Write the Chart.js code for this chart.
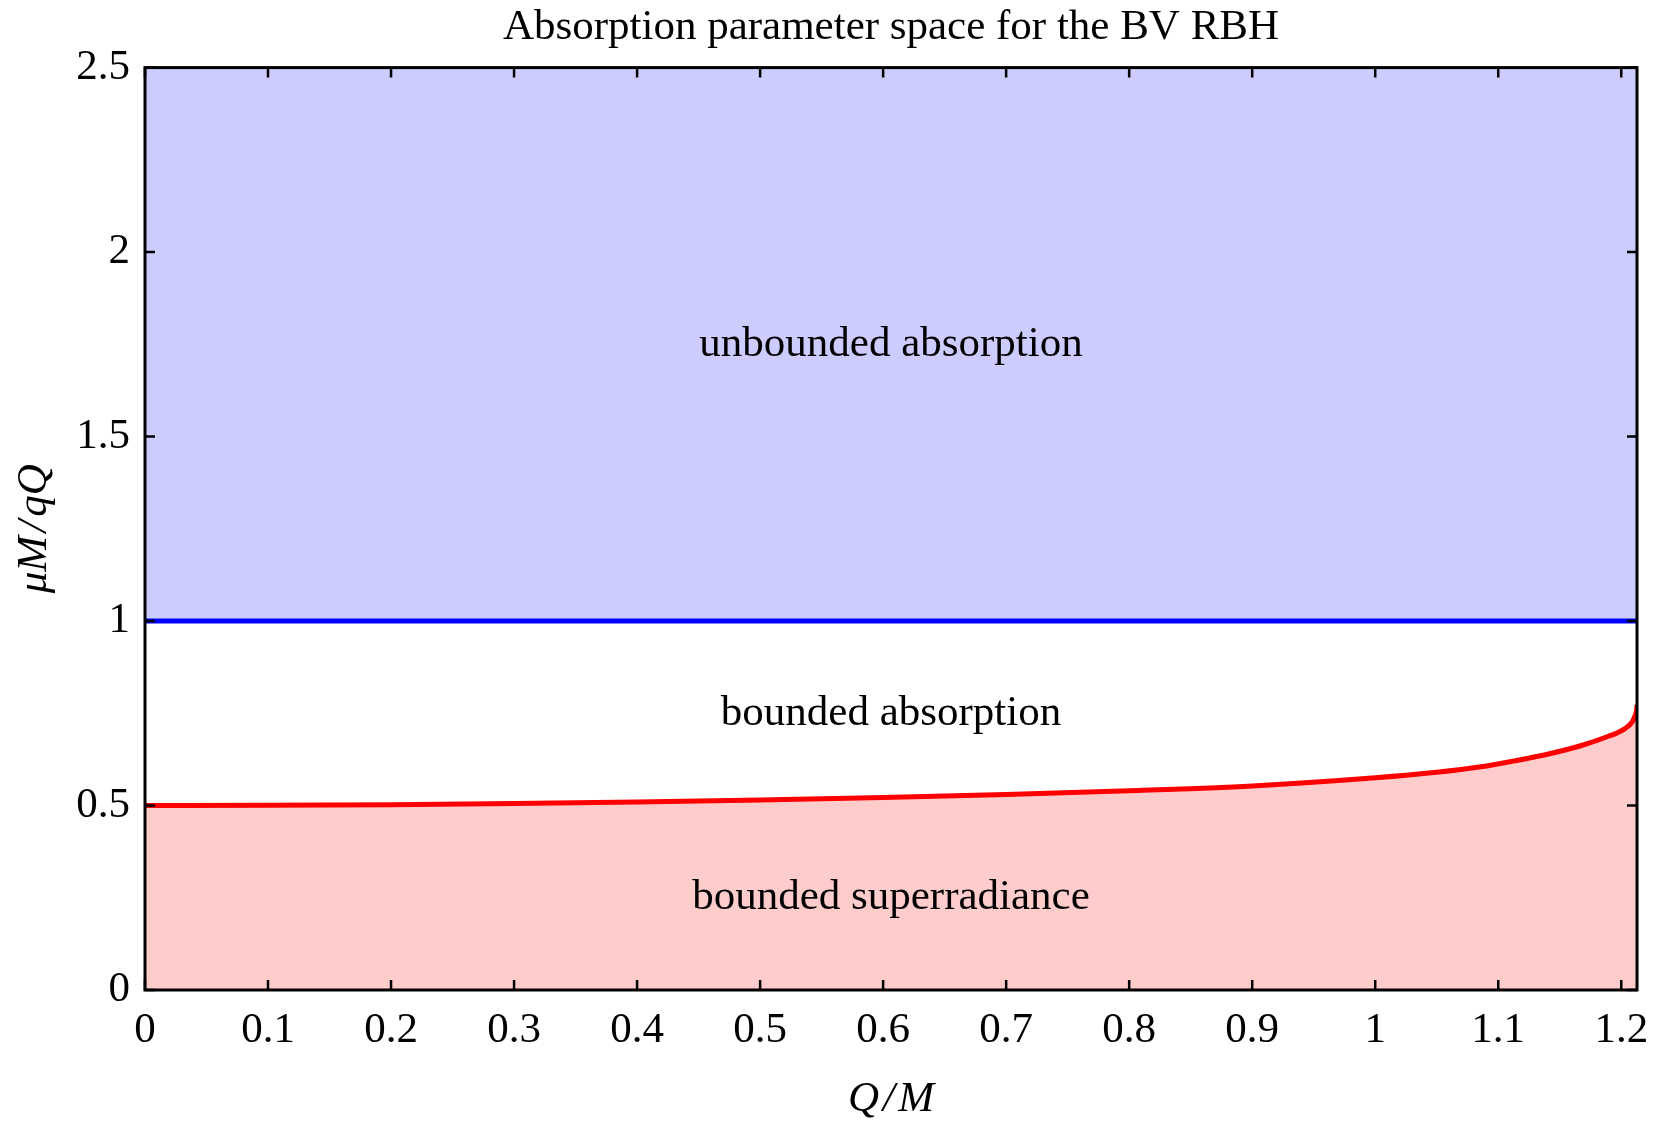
<!DOCTYPE html>
<html>
<head>
<meta charset="utf-8">
<title>Absorption parameter space for the BV RBH</title>
<script src="https://cdn.jsdelivr.net/npm/chart.js@4.4.0/dist/chart.umd.min.js"></script>
<style>
  html, body { margin: 0; padding: 0; background: #fff; }
</style>
</head>
<body>
<canvas id="chart" width="1661" height="1132"></canvas>
<script>
// Q/M samples along the superradiance boundary
const qOverM = [0, 0.1, 0.2, 0.3, 0.4, 0.5, 0.6, 0.7, 0.8, 0.9, 1.0, 1.05, 1.086, 1.113, 1.14, 1.167, 1.189, 1.2024, 1.2092, 1.2105, 1.2119, 1.2126, 1.2128];
const muBound = [0.500, 0.5006, 0.5024, 0.5054, 0.5096, 0.515, 0.522, 0.530, 0.540, 0.553, 0.575, 0.590, 0.605, 0.621, 0.639, 0.662, 0.687, 0.707, 0.728, 0.738, 0.750, 0.762, 0.773];

// the mu M / q Q = 1 line
const edgeQ = [0, 1.2128];
const absorptionEdge = [1, 1];

const qMax = 1.2128;
const xTicks = [0, 0.1, 0.2, 0.3, 0.4, 0.5, 0.6, 0.7, 0.8, 0.9, 1, 1.1, 1.2];
const yTicks = [0, 0.5, 1, 1.5, 2, 2.5];

const regionNames = ["unbounded absorption", "bounded absorption", "bounded superradiance"];
const regionLevels = [1.75, 0.75, 0.25];

const serif = "'Liberation Serif', 'Times New Roman', serif";
Chart.defaults.font.family = serif;

const fmt = (v) => String(Number(v.toFixed(1)));

// Mathematica-style frame: inward ticks on all four sides, region names
const framePlugin = {
  id: "frame",
  afterDatasetsDraw(chart) {
    const { ctx, chartArea: a } = chart;
    const x = chart.scales.x;
    const y = chart.scales.y;
    ctx.save();
    ctx.fillStyle = "#000";
    ctx.font = "43px " + serif;
    ctx.textAlign = "center";
    ctx.textBaseline = "middle";
    const cx = x.getPixelForValue(qMax / 2);
    regionNames.forEach((t, i) => {
      ctx.fillText(t, cx, y.getPixelForValue(regionLevels[i]));
    });

    ctx.strokeStyle = "#000";
    ctx.lineWidth = 2.5;
    ctx.beginPath();
    xTicks.forEach((v) => {
      const px = x.getPixelForValue(v);
      ctx.moveTo(px, a.bottom);
      ctx.lineTo(px, a.bottom - 10);
      ctx.moveTo(px, a.top);
      ctx.lineTo(px, a.top + 10);
    });
    yTicks.forEach((v) => {
      const py = y.getPixelForValue(v);
      ctx.moveTo(a.left, py);
      ctx.lineTo(a.left + 10, py);
      ctx.moveTo(a.right, py);
      ctx.lineTo(a.right - 10, py);
    });
    ctx.stroke();

    ctx.lineWidth = 3;
    ctx.strokeRect(a.left, a.top, a.right - a.left, a.bottom - a.top);
    ctx.restore();
  },
};

const ctx = document.getElementById("chart").getContext("2d");
const chart = new Chart(ctx, {
  type: "line",
  data: {
    datasets: [
      {
        label: "superradiance bound",
        data: qOverM.map((q, i) => ({ x: q, y: muBound[i] })),
        borderColor: "#ff0000",
        borderWidth: 5,
        backgroundColor: "#ffcccc",
        fill: "origin",
        pointRadius: 0,
        cubicInterpolationMode: "monotone",
      },
      {
        label: "absorption bound",
        data: edgeQ.map((q, i) => ({ x: q, y: absorptionEdge[i] })),
        borderColor: "#0000ff",
        borderWidth: 5,
        backgroundColor: "#ccccff",
        fill: "end",
        pointRadius: 0,
      },
    ],
  },
  options: {
    responsive: false,
    animation: false,
    devicePixelRatio: 1,
    layout: { padding: { right: 24 } },
    plugins: {
      legend: { display: false },
      tooltip: { enabled: false },
      title: {
        display: true,
        text: "Absorption parameter space for the BV RBH",
        color: "#000",
        fullSize: false,
        font: { family: serif, size: 43, weight: "normal" },
        padding: { top: 2, bottom: 14 },
      },
    },
    scales: {
      x: {
        type: "linear",
        min: 0,
        max: qMax,
        afterBuildTicks: (s) => { s.ticks = xTicks.map((v) => ({ value: v })); },
        afterFit: (s) => {
          s.height = 142;
          // keep the frame where the reference has it; the last label may hang over
          s.paddingRight = 0;
          s.paddingLeft = 0;
        },
        grid: { display: false, drawTicks: false },
        border: { display: false },
        ticks: {
          color: "#000",
          font: { family: serif, size: 43 },
          padding: 15,
          maxRotation: 0,
          autoSkip: false,
          callback: (v) => fmt(v),
        },
        title: {
          display: true,
          text: "Q\u200a/\u200aM",
          color: "#000",
          font: { family: serif, size: 43, style: "italic" },
          padding: { top: 0, bottom: 6 },
        },
      },
      y: {
        type: "linear",
        min: 0,
        max: 2.5,
        afterBuildTicks: (s) => { s.ticks = yTicks.map((v) => ({ value: v })); },
        afterFit: (s) => { s.width = 145; },
        grid: { display: false, drawTicks: false },
        border: { display: false },
        ticks: {
          color: "#000",
          font: { family: serif, size: 43 },
          padding: 15,
          autoSkip: false,
          callback: (v) => fmt(v),
        },
        title: {
          display: true,
          text: "μM\u200a/\u200aqQ",
          color: "#000",
          font: { family: serif, size: 43, style: "italic" },
          padding: { top: 9, bottom: 0 },
        },
      },
    },
  },
  plugins: [framePlugin],
});
</script>
</body>
</html>
